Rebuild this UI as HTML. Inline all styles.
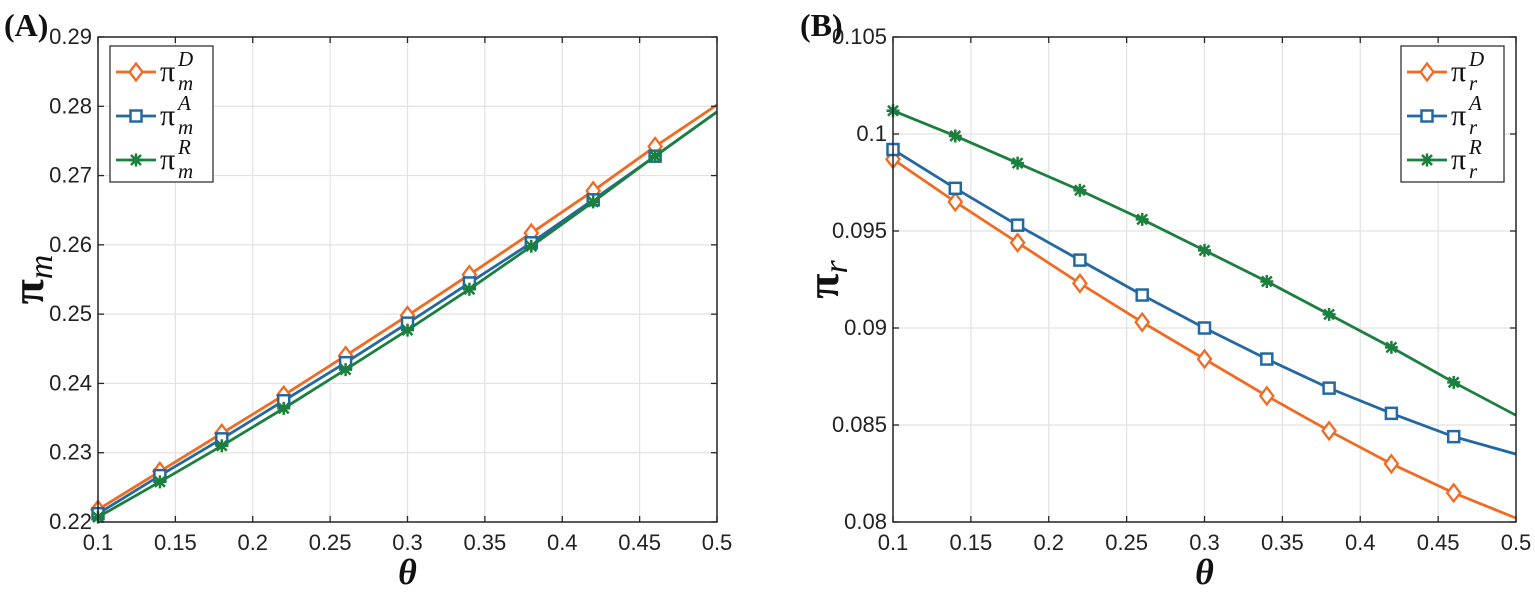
<!DOCTYPE html>
<html><head><meta charset="utf-8"><style>
html,body{margin:0;padding:0;background:#fff;}
svg{display:block;font-family:"Liberation Sans",Arial,sans-serif;}
</style></head><body>
<svg id="chart" width="1535" height="595" viewBox="0 0 1535 595" xmlns="http://www.w3.org/2000/svg"></svg>
<script>
const thetas = [0.1,0.14,0.18,0.22,0.26,0.30,0.34,0.38,0.42,0.46,0.5];
const xTicks = [0.1,0.15,0.2,0.25,0.3,0.35,0.4,0.45,0.5];
const xTickLabels = ["0.1","0.15","0.2","0.25","0.3","0.35","0.4","0.45","0.5"];
const mD = [0.2218,0.2273,0.2328,0.2383,0.2440,0.2498,0.2557,0.2617,0.2678,0.2742,0.2802];
const mA = [0.2212,0.2267,0.2320,0.2375,0.2430,0.2487,0.2545,0.2603,0.2665,0.2728,0.2792];
const mR = [0.2207,0.2258,0.2310,0.2364,0.2420,0.2477,0.2536,0.2598,0.2662,0.2728,0.2792];
const mTicks = [0.22,0.23,0.24,0.25,0.26,0.27,0.28,0.29];
const mTickLabels = ["0.22","0.23","0.24","0.25","0.26","0.27","0.28","0.29"];
const rD = [0.0987,0.0965,0.0944,0.0923,0.0903,0.0884,0.0865,0.0847,0.0830,0.0815,0.0802];
const rA = [0.0992,0.0972,0.0953,0.0935,0.0917,0.0900,0.0884,0.0869,0.0856,0.0844,0.0835];
const rR = [0.1012,0.0999,0.0985,0.0971,0.0956,0.0940,0.0924,0.0907,0.0890,0.0872,0.0855];
const rTicks = [0.08,0.085,0.09,0.095,0.1,0.105];
const rTickLabels = ["0.08","0.085","0.09","0.095","0.1","0.105"];

const NS="http://www.w3.org/2000/svg";
const svg=document.getElementById('chart');
const C={D:"#f06a22",A:"#2468a2",R:"#1b7f3e"};
function mk(tag,attrs,parent,txt){const e=document.createElementNS(NS,tag);for(const k in attrs)e.setAttribute(k,attrs[k]);if(txt!==undefined)e.textContent=txt;(parent||svg).appendChild(e);return e;}

function marker(g,type,x,y,col){
  let e;
  if(type==='D'){e=mk('path',{d:`M${x} ${y-8.5}L${x+6.5} ${y}L${x} ${y+8.5}L${x-6.5} ${y}Z`,fill:'#fff',stroke:col,'stroke-width':2.3},g);}
  else if(type==='A'){e=mk('rect',{x:x-5.5,y:y-5.5,width:11,height:11,fill:'#fff',stroke:col,'stroke-width':2.5},g);}
  else {e=mk('path',{d:`M${x-6.5} ${y}H${x+6.5}M${x} ${y-6.5}V${y+6.5}M${x-5} ${y-5}L${x+5} ${y+5}M${x-5} ${y+5}L${x+5} ${y-5}`,stroke:col,'stroke-width':2.5,fill:'none'},g);}
  
  
}

function panel(o){
  const g=mk('g',{});
  
  
  const X=v=>o.x0+(v-0.1)/(0.4)*(o.x1-o.x0);
  const Y=v=>o.y1-(v-o.ymin)/(o.ymax-o.ymin)*(o.y1-o.y0);
  xTicks.forEach((t,i)=>{
    const l=mk('line',{x1:X(t),x2:X(t),y1:o.y0,y2:o.y1,stroke:'#e2e2e2','stroke-width':1.2},g);
    
  });
  o.yt.forEach(t=>{
    const l=mk('line',{x1:o.x0,x2:o.x1,y1:Y(t),y2:Y(t),stroke:'#e2e2e2','stroke-width':1.2},g);
    
  });
  o.series.forEach(s=>{
    const pts=thetas.map((t,i)=>X(t)+','+Y(s.v[i])).join(' ');
    const pl=mk('polyline',{points:pts,fill:'none',stroke:C[s.k],'stroke-width':2.8},g);
    
    for(let i=0;i<thetas.length-1;i++) marker(g,s.k,X(thetas[i]),Y(s.v[i]),C[s.k]);
  });
  const b=mk('rect',{x:o.x0,y:o.y0,width:o.x1-o.x0,height:o.y1-o.y0,fill:'none',stroke:'#262626','stroke-width':1.5},g);
  
  xTicks.forEach((t,i)=>{
    mk('line',{x1:X(t),x2:X(t),y1:o.y1,y2:o.y1-6,stroke:'#262626','stroke-width':1.3},g);
    mk('line',{x1:X(t),x2:X(t),y1:o.y0,y2:o.y0+6,stroke:'#262626','stroke-width':1.3},g);
    const tx=mk('text',{x:X(t),y:o.y1+28,'text-anchor':'middle','font-size':22,fill:'#222'},g,xTickLabels[i]);
    
  });
  o.yt.forEach((t,i)=>{
    mk('line',{x1:o.x0,x2:o.x0+6,y1:Y(t),y2:Y(t),stroke:'#262626','stroke-width':1.3},g);
    mk('line',{x1:o.x1,x2:o.x1-6,y1:Y(t),y2:Y(t),stroke:'#262626','stroke-width':1.3},g);
    const ty=mk('text',{x:o.x0-6,y:Y(t)+7,'text-anchor':'end','font-size':22,fill:'#222'},g,o.ytl[i]);
    
  });
  const xl=mk('text',{x:(o.x0+o.x1)/2,y:584,'text-anchor':'middle','font-size':36,'font-weight':'bold','font-style':'italic','font-family':'Liberation Serif,serif',fill:'#111'},g,'θ');
  
  const yl=mk('text',{transform:`translate(${o.x0-55},${(o.y0+o.y1)/2}) rotate(-90)`,'text-anchor':'middle','font-size':46,'font-weight':'bold','font-family':'Liberation Serif,serif',fill:'#111'},g);
  
  mk('tspan',{},yl,'π');
  mk('tspan',{dy:9,'font-size':34,'font-style':'italic','font-weight':'normal'},yl,o.sub);
  const pt=mk('text',{x:o.letterX,y:36,'font-size':32,'font-weight':'bold','font-family':'Liberation Serif,serif',fill:'#111'},g,o.letter);
  
  const lg=mk('g',{},g);
  
  mk('rect',{x:o.lx,y:46,width:103,height:136,fill:'#fff',stroke:'#333','stroke-width':1.3},lg);
  const sups=['D','A','R'];
  o.series.forEach((s,i)=>{
    const yy=72+i*44;
    const e=mk('g',{},lg);
    
    mk('line',{x1:o.lx+6,x2:o.lx+46,y1:yy,y2:yy,stroke:C[s.k],'stroke-width':2.8},e);
    marker(e,s.k,o.lx+26,yy,C[s.k]);
    mk('text',{x:o.lx+50,y:yy+9,'font-size':30,'font-family':'Liberation Serif,serif',fill:'#111'},e,'π');
    mk('text',{x:o.lx+68,y:yy-6,'font-size':21,'font-style':'italic','font-family':'Liberation Serif,serif',fill:'#111'},e,sups[i]);
    mk('text',{x:o.lx+68,y:yy+18,'font-size':21,'font-style':'italic','font-family':'Liberation Serif,serif',fill:'#111'},e,o.sub);
  });
}
panel({name:'panel-a',x0:98,x1:717,y0:37,y1:522,ymin:0.22,ymax:0.29,yt:mTicks,ytl:mTickLabels,sub:'m',letter:'(A)',letterX:4,lx:110,
  series:[{k:'D',v:mD},{k:'A',v:mA},{k:'R',v:mR}]});
panel({name:'panel-b',x0:893,x1:1516,y0:37,y1:522,ymin:0.08,ymax:0.105,yt:rTicks,ytl:rTickLabels,sub:'r',letter:'(B)',letterX:800,lx:1401,
  series:[{k:'D',v:rD},{k:'A',v:rA},{k:'R',v:rR}]});
</script>
</body></html>
